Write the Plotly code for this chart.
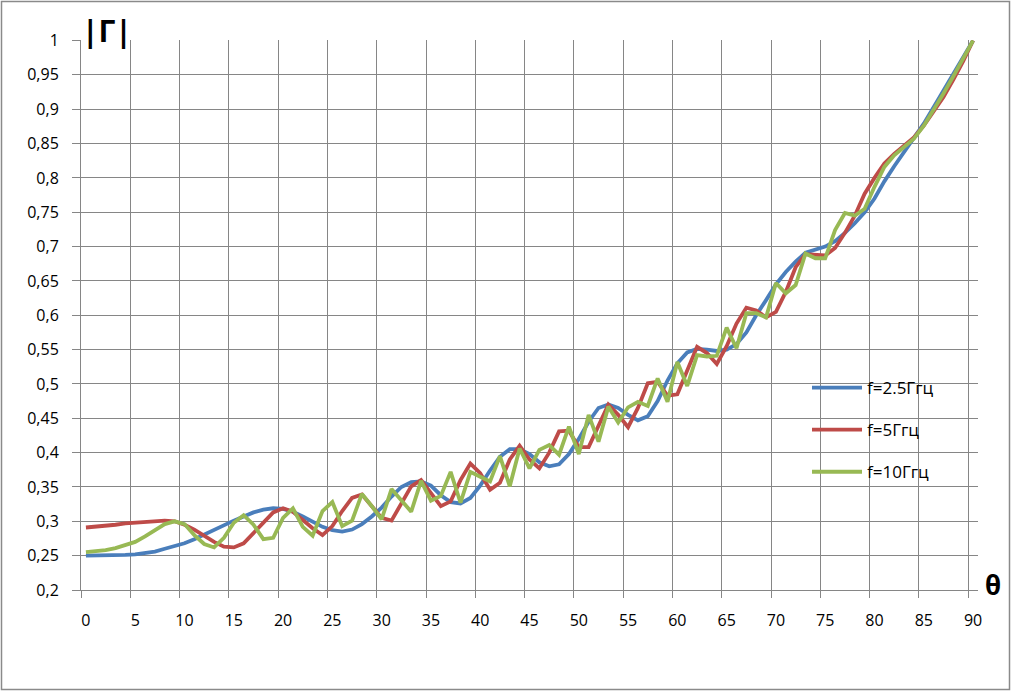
import plotly.graph_objects as go

theta = list(range(0, 91))

gamma_2_5 = [
    0.250, 0.250, 0.250, 0.251, 0.251, 0.252, 0.254, 0.256, 0.260, 0.264,
    0.268, 0.274, 0.281, 0.288, 0.295, 0.301, 0.307, 0.313, 0.317, 0.319,
    0.318, 0.314, 0.307, 0.299, 0.292, 0.287, 0.285, 0.288, 0.296, 0.307,
    0.320, 0.336, 0.350, 0.357, 0.358, 0.352, 0.338, 0.328, 0.326, 0.334,
    0.352, 0.374, 0.394, 0.405, 0.405, 0.398, 0.386, 0.380, 0.383, 0.398,
    0.420, 0.445, 0.465, 0.470, 0.465, 0.455, 0.447, 0.453, 0.475, 0.505,
    0.530, 0.546, 0.551, 0.550, 0.548, 0.550, 0.558, 0.575, 0.600, 0.622,
    0.645, 0.663, 0.678, 0.691, 0.696, 0.700, 0.708, 0.720, 0.734, 0.750,
    0.770, 0.795, 0.817, 0.838, 0.857, 0.879, 0.903, 0.927, 0.951, 0.976,
    1.000,
]

gamma_5 = [
    0.291, 0.292, 0.293, 0.295, 0.297, 0.298, 0.300, 0.301, 0.301, 0.300,
    0.295, 0.288, 0.279, 0.270, 0.263, 0.262, 0.268, 0.283, 0.300, 0.313,
    0.319, 0.314, 0.302, 0.290, 0.280, 0.293, 0.315, 0.334, 0.339, 0.322,
    0.305, 0.301, 0.326, 0.351, 0.360, 0.340, 0.322, 0.329, 0.360, 0.384,
    0.370, 0.346, 0.356, 0.390, 0.410, 0.390, 0.377, 0.400, 0.431, 0.432,
    0.408, 0.408, 0.440, 0.470, 0.455, 0.437, 0.465, 0.501, 0.503, 0.483,
    0.485, 0.520, 0.554, 0.545, 0.529, 0.555, 0.588, 0.611, 0.607, 0.597,
    0.605, 0.634, 0.670, 0.689, 0.688, 0.687, 0.698, 0.720, 0.745, 0.777,
    0.800, 0.821, 0.835, 0.847, 0.859, 0.876, 0.896, 0.918, 0.943, 0.970,
    1.000,
]

gamma_10 = [
    0.255, 0.256, 0.258, 0.261, 0.265, 0.270, 0.278, 0.287, 0.296, 0.300,
    0.296, 0.280, 0.267, 0.262, 0.276, 0.298, 0.309, 0.295, 0.274, 0.276,
    0.305, 0.319, 0.292, 0.279, 0.315, 0.328, 0.293, 0.301, 0.340, 0.322,
    0.303, 0.347, 0.330, 0.314, 0.359, 0.330, 0.337, 0.372, 0.327, 0.372,
    0.365, 0.358, 0.395, 0.351, 0.406, 0.377, 0.404, 0.411, 0.397, 0.438,
    0.398, 0.455, 0.416, 0.467, 0.444, 0.466, 0.474, 0.468, 0.508, 0.474,
    0.532, 0.497, 0.542, 0.540, 0.541, 0.582, 0.552, 0.603, 0.603, 0.597,
    0.647, 0.632, 0.644, 0.690, 0.683, 0.683, 0.724, 0.749, 0.745, 0.755,
    0.787, 0.816, 0.833, 0.845, 0.857, 0.876, 0.899, 0.923, 0.948, 0.974,
    1.000,
]

series_names = ["f=2.5Ггц", "f=5Ггц", "f=10Ггц"]
series_colors = ["#4A7EBB", "#BE4B48", "#98B954"]

x_tick_vals = list(range(0, 91, 5))
x_tick_text = [str(v) for v in x_tick_vals]
y_tick_vals = [0.2, 0.25, 0.3, 0.35, 0.4, 0.45, 0.5, 0.55, 0.6, 0.65, 0.7,
               0.75, 0.8, 0.85, 0.9, 0.95, 1.0]
y_tick_text = ["0,2", "0,25", "0,3", "0,35", "0,4", "0,45", "0,5", "0,55",
               "0,6", "0,65", "0,7", "0,75", "0,8", "0,85", "0,9", "0,95", "1"]

FONT = "Open Sans, Liberation Sans, sans-serif"
GRID = "#868686"

fig = go.Figure()
for i, (name, vals, col) in enumerate(zip(series_names,
                                           [gamma_2_5, gamma_5, gamma_10],
                                           series_colors)):
    fig.add_trace(go.Scatter(
        x=theta, y=vals, mode="lines", name=name,
        line=dict(color=col, width=3.8),
        legendgroup=f"g{i}",
    ))

W, H = 1012, 691
ML, MR, MT, MB = 81, 34, 40, 101
pw, ph = W - ML - MR, H - MT - MB


def px_x(p):
    return (p - ML) / pw


def px_y(p):
    return (H - MB - p) / ph


fig.update_layout(
    width=W, height=H,
    margin=dict(l=ML, r=MR, t=MT, b=MB, pad=0),
    paper_bgcolor="white", plot_bgcolor="white",
    font=dict(family=FONT, size=16, color="black"),
    showlegend=True,
    legend=dict(
        x=px_x(807), y=px_y(370), xanchor="left", yanchor="top",
        bgcolor="rgba(0,0,0,0)", borderwidth=0,
        font=dict(family=FONT, size=17, color="black"),
        tracegroupgap=17, itemwidth=50,
    ),
    xaxis=dict(
        range=[-0.5, 90.5],
        tickmode="array", tickvals=x_tick_vals, ticktext=x_tick_text,
        ticks="", showgrid=False, zeroline=False,
        showline=True, linecolor=GRID, linewidth=1,
        ticklabelstandoff=16,
        tickfont=dict(family=FONT, size=16),
        minor=dict(tick0=-0.5, dtick=5, showgrid=True, gridcolor=GRID,
                   gridwidth=1, ticks="outside", ticklen=7, tickcolor=GRID),
    ),
    yaxis=dict(
        range=[0.2, 1.0008],
        tickmode="array", tickvals=y_tick_vals, ticktext=y_tick_text,
        showgrid=True, gridcolor=GRID, gridwidth=1, zeroline=False,
        ticks="outside", ticklen=8, tickcolor=GRID,
        showline=True, linecolor=GRID, linewidth=1,
        ticklabelstandoff=10,
        tickfont=dict(family=FONT, size=16),
    ),
    shapes=[dict(
        type="rect", xref="paper", yref="paper",
        x0=px_x(1.5), x1=px_x(1009.5), y0=px_y(689.5), y1=px_y(1.5),
        line=dict(color="#8A8A8A", width=1.5), fillcolor="rgba(0,0,0,0)",
        layer="below",
    )],
    annotations=[
        dict(text="<b>|Г|</b>", xref="paper", yref="paper",
             x=px_x(107), y=px_y(30), xanchor="center", yanchor="middle",
             showarrow=False, font=dict(family=FONT, size=30, color="black")),
        dict(text="<b>θ</b>", xref="paper", yref="paper",
             x=px_x(993), y=px_y(585), xanchor="center", yanchor="middle",
             showarrow=False, font=dict(family=FONT, size=26, color="black")),
    ],
)

fig.write_html(
    "out.html",
    config={"displayModeBar": False},
    post_script="document.body.style.margin='0';document.body.style.overflow='hidden';",
)
